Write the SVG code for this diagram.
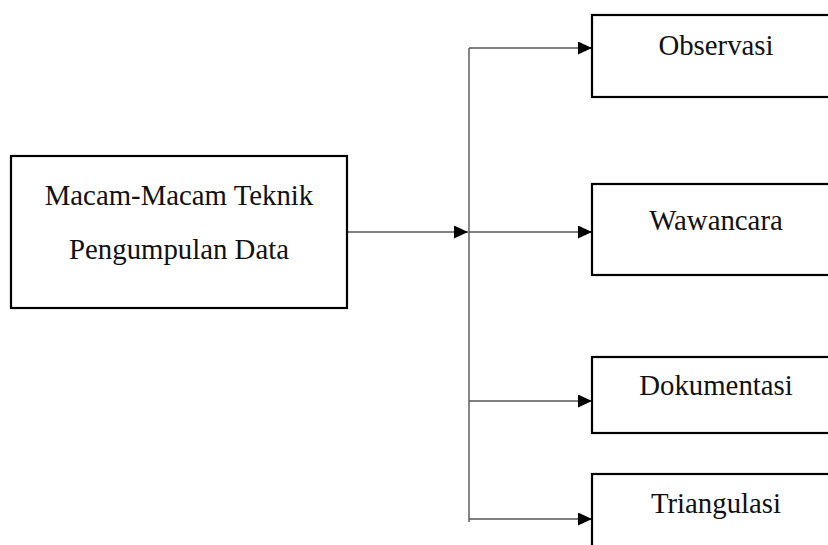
<svg xmlns="http://www.w3.org/2000/svg" width="828" height="545" viewBox="0 0 828 545">
  <style>
    .box { fill: #ffffff; stroke: #000000; stroke-width: 2.2; }
    .label { font-family: "Liberation Serif", "Times New Roman", serif; font-size: 28.8px; fill: #111111; text-anchor: middle; }
    .wire { fill: none; stroke: #555555; stroke-width: 1.4; }
  </style>
  <defs>
    <marker id="arrow" viewBox="0 0 14 13" refX="14" refY="6.5" markerWidth="14" markerHeight="13" markerUnits="userSpaceOnUse" orient="auto">
      <path d="M0,0 L14,6.5 L0,13 Z" fill="#000000"/>
    </marker>
  </defs>
  <rect width="828" height="545" fill="#ffffff"/>

  <g id="connectors">
    <line class="wire" x1="347" y1="232" x2="468" y2="232" marker-end="url(#arrow)"/>
    <line class="wire" x1="469" y1="48" x2="469" y2="522"/>
    <line class="wire" x1="469" y1="48" x2="592" y2="48" marker-end="url(#arrow)"/>
    <line class="wire" x1="469" y1="232" x2="592" y2="232" marker-end="url(#arrow)"/>
    <line class="wire" x1="469" y1="401" x2="592" y2="401" marker-end="url(#arrow)"/>
    <line class="wire" x1="469" y1="519" x2="592" y2="519" marker-end="url(#arrow)"/>
  </g>

  <g id="teknik">
    <rect class="box" x="11" y="156" width="336" height="152"/>
    <text class="label" x="179" y="205">Macam-Macam Teknik</text>
    <text class="label" x="179" y="259">Pengumpulan Data</text>
  </g>

  <g id="observasi">
    <rect class="box" x="592" y="15" width="250" height="82"/>
    <text class="label" x="716" y="55">Observasi</text>
  </g>

  <g id="wawancara">
    <rect class="box" x="592" y="184" width="250" height="91"/>
    <text class="label" x="716" y="230">Wawancara</text>
  </g>

  <g id="dokumentasi">
    <rect class="box" x="592" y="357" width="250" height="76"/>
    <text class="label" x="716" y="395">Dokumentasi</text>
  </g>

  <g id="triangulasi">
    <rect class="box" x="592" y="474" width="250" height="90"/>
    <text class="label" x="716" y="513">Triangulasi</text>
  </g>
</svg>
